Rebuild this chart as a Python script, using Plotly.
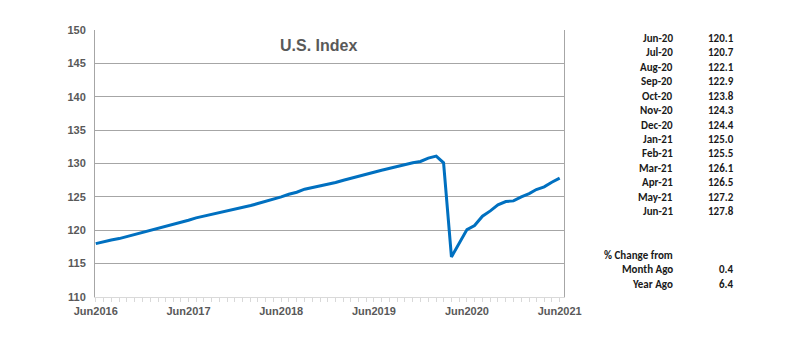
import plotly.graph_objects as go
import pandas as pd

# Monthly U.S. index, Jun 2016 - Jun 2021
months = pd.date_range("2016-06-01", "2021-06-01", freq="MS")
values = [
    118.0, 118.3, 118.55, 118.75, 119.05, 119.35, 119.6, 119.9, 120.25, 120.6, 120.85, 121.1,
    121.5, 121.85, 122.1, 122.35, 122.6, 122.9, 123.2, 123.45, 123.7, 124.0, 124.3, 124.6,
    125.0, 125.4, 125.7, 126.15, 126.4, 126.6, 126.85, 127.15, 127.5, 127.8, 128.15, 128.45,
    128.7, 129.0, 129.3, 129.6, 129.9, 130.1, 130.3, 130.8, 131.1, 130.1, 116.0, 118.1,
    120.1, 120.7, 122.1, 122.9, 123.8, 124.3, 124.4, 125.0, 125.5, 126.1, 126.5, 127.2, 127.8,
]

table_labels = ["Jun-20", "Jul-20", "Aug-20", "Sep-20", "Oct-20", "Nov-20", "Dec-20",
                "Jan-21", "Feb-21", "Mar-21", "Apr-21", "May-21", "Jun-21"]
table_values = ["120.1", "120.7", "122.1", "122.9", "123.8", "124.3", "124.4",
                "125.0", "125.5", "126.1", "126.5", "127.2", "127.8"]
change_labels = ["Month Ago", "Year Ago"]
change_values = ["0.4", "6.4"]

OFF = 8  # page body margin
W, H = 800 - OFF, 363 - OFF
L, R, T, B = 95, 564, 30, 297  # plot area in screen pixels

def px(x):
    return (x - L) / (R - L)

def py(y):
    return (B - y) / (B - T)

fig = go.Figure()
fig.add_trace(go.Scatter(x=months, y=values, mode="lines",
                         line=dict(color="#0070C0", width=3), hoverinfo="skip"))

tick_font = dict(family="Arial, Liberation Sans", size=11, color="#595959", weight="bold")

fig.update_layout(
    width=W, height=H,
    margin=dict(l=L - OFF, r=W - (R - OFF), t=T - OFF, b=H - (B - OFF), pad=0),
    paper_bgcolor="white", plot_bgcolor="white",
    showlegend=False,
    xaxis=dict(
        range=["2016-05-29", "2021-06-18"],
        tickvals=pd.date_range("2016-06-01", "2021-06-01", freq="12MS"),
        tickformat="%b%Y",
        tickfont=tick_font,
        showgrid=False, zeroline=False,
        showline=True, linecolor="#d9d9d9", linewidth=1,
        ticks="outside", ticklen=4, tickcolor="#d9d9d9",
        minor=dict(dtick="M1", tick0="2016-06-01", ticks="outside", ticklen=4, tickcolor="#d9d9d9"),
    ),
    yaxis=dict(
        range=[110, 150], dtick=5,
        tickfont=tick_font,
        showgrid=True, gridcolor="#a6a6a6", gridwidth=1,
        zeroline=False,
        showline=True, linecolor="#a6a6a6", linewidth=1, mirror=True,
        ticks="", ticklabelstandoff=6,
    ),
)

annotations = [
    dict(text="U.S. Index", x=px(318), y=py(45), xref="paper", yref="paper",
         showarrow=False, xanchor="center", yanchor="middle",
         font=dict(family="Arial, Liberation Sans", size=16, color="#595959", weight="bold")),
]

tfont = dict(family="Carlito, Lato, Open Sans", size=11, color="#1a1a1a", weight="bold")
row_y0, row_dy = 38.3, 14.45
for i, (lab, val) in enumerate(zip(table_labels, table_values)):
    yy = row_y0 + i * row_dy
    annotations.append(dict(text=lab, x=px(675), y=py(yy), xref="paper", yref="paper",
                            showarrow=False, xanchor="right", yanchor="middle", font=tfont))
    annotations.append(dict(text=val, x=px(736), y=py(yy), xref="paper", yref="paper",
                            showarrow=False, xanchor="right", yanchor="middle", font=tfont))

annotations.append(dict(text="% Change from", x=px(675), y=py(255), xref="paper", yref="paper",
                        showarrow=False, xanchor="right", yanchor="middle", font=tfont))
for i, (lab, val) in enumerate(zip(change_labels, change_values)):
    yy = 269.5 + i * 14.5
    annotations.append(dict(text=lab, x=px(675), y=py(yy), xref="paper", yref="paper",
                            showarrow=False, xanchor="right", yanchor="middle", font=tfont))
    annotations.append(dict(text=val, x=px(736), y=py(yy), xref="paper", yref="paper",
                            showarrow=False, xanchor="right", yanchor="middle", font=tfont))

fig.update_layout(annotations=annotations)
fig.write_html("out.html")
